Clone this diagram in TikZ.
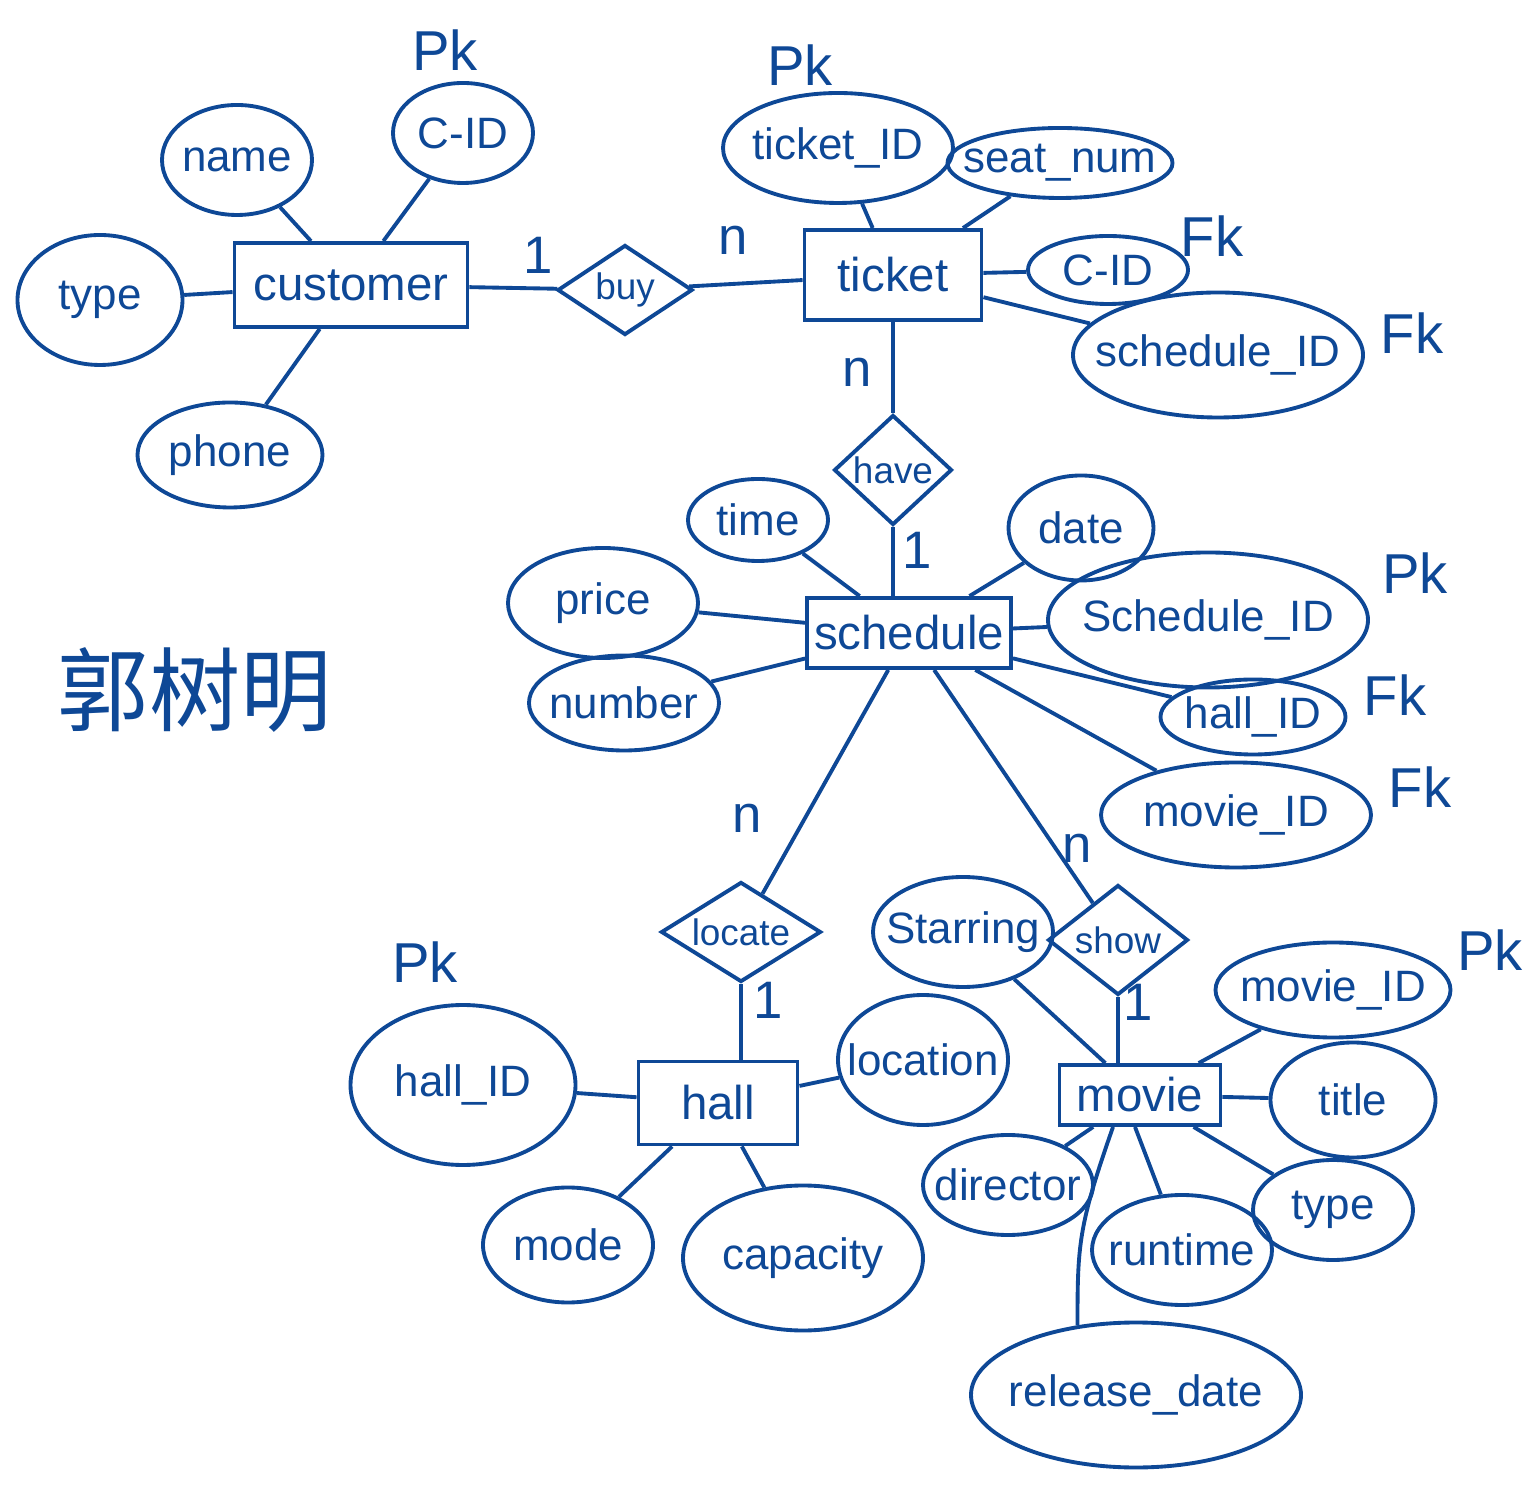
\documentclass[tikz,border=0pt]{standalone}
\usepackage{fontspec}
\setmainfont{Liberation Sans}
\newfontfamily\cjkfont{Noto Sans CJK SC}
\usepackage{tikz}
\usetikzlibrary{shapes.geometric,positioning}
\usepackage{xcolor}
\definecolor{inkblue}{RGB}{14,72,150}

\begin{document}
\begin{tikzpicture}[
    node distance=2cm,
    every node/.style={text=inkblue},
    entity/.style={rectangle, draw=inkblue, line width=1.1pt, inner sep=2pt, text centered, font=\fontsize{13.5}{16}\selectfont},
    relation/.style={diamond, draw=inkblue, line width=1.1pt, inner sep=0pt, aspect=1.4, text centered, font=\fontsize{10.5}{12}\selectfont},
    attr/.style={ellipse, draw=inkblue, line width=1.1pt, inner xsep=-0.3cm, inner ysep=0pt, text centered, font=\fontsize{12.5}{15}\selectfont},
    keytag/.style={font=\fontsize{16}{18}\selectfont},
    card/.style={font=\fontsize{15}{17}\selectfont},
    link/.style={draw=inkblue, line width=1.1pt}
]
\useasboundingbox (0,0) rectangle (15.24,-14.85);

% Entities and relations
\node (customer) [entity, minimum width=2.33cm, minimum height=0.84cm] at (3.51,-2.85) {customer};
\node (buy) [relation, minimum width=1.35cm, minimum height=0.9cm, right of=customer, xshift=0.74cm, yshift=-0.05cm] {buy};
\node (ticket) [entity, minimum width=1.77cm, minimum height=0.9cm, right of=buy, xshift=0.68cm, yshift=0.15cm] {ticket};
\node (have) [relation, minimum width=1.05cm, minimum height=1.1cm, below of=ticket, yshift=0.05cm] {have};
\node (schedule) [entity, minimum width=2.03cm, minimum height=0.7cm, below of=have, xshift=0.16cm, yshift=0.37cm] {schedule};
\node (locate) [relation, minimum width=1.6cm, minimum height=1cm, below of=schedule, xshift=-1.68cm, yshift=-0.99cm] {locate};
\node (show) [relation, minimum width=1.4cm, minimum height=1.1cm, below of=schedule, xshift=2.09cm, yshift=-1.07cm] {show};
\node (hall) [entity, minimum width=1.59cm, minimum height=0.83cm, below of=locate, xshift=-0.23cm, yshift=0.29cm] {hall};
\node (movie) [entity, minimum width=1.61cm, minimum height=0.6cm, below of=show, xshift=0.22cm, yshift=0.45cm] {movie};

% Attributes of customer
\node (name) [attr, minimum width=1.5cm, minimum height=1.1cm, above of=customer, xshift=-1.14cm, yshift=-0.75cm] {name};
\node (cid) [attr, minimum width=1.4cm, minimum height=1cm, above of=customer, xshift=1.12cm, yshift=-0.48cm] {C-ID};
\node (ctype) [attr, minimum width=1.65cm, minimum height=1.3cm, left of=customer, xshift=-0.51cm, yshift=-0.15cm] {type};
\node (phone) [attr, minimum width=1.85cm, minimum height=1.05cm, below of=customer, xshift=-1.21cm, yshift=0.3cm] {phone};

% Attributes of ticket
\node (ticketid) [attr, minimum width=2.3cm, minimum height=1.1cm, above of=ticket, xshift=-0.55cm, yshift=-0.73cm] {ticket\_ID};
\node (seatnum) [attr, minimum width=2.25cm, minimum height=0.7cm, above of=ticket, xshift=1.67cm, yshift=-0.88cm] {seat\_num};
\node (tcid) [attr, minimum width=1.6cm, minimum height=0.68cm, right of=ticket, xshift=0.15cm, yshift=0.05cm] {C-ID};
\node (tschedid) [attr, minimum width=2.9cm, minimum height=1.25cm, right of=ticket, xshift=1.25cm, yshift=-0.8cm] {schedule\_ID};

% Attributes of schedule
\node (time) [attr, minimum width=1.4cm, minimum height=0.82cm, above of=schedule, xshift=-1.51cm, yshift=-0.87cm] {time};
\node (price) [attr, minimum width=1.9cm, minimum height=1.1cm, left of=schedule, xshift=-1.06cm, yshift=0.3cm] {price};
\node (number) [attr, minimum width=1.9cm, minimum height=0.95cm, left of=schedule, xshift=-0.85cm, yshift=-0.7cm] {number};
\node (date) [attr, minimum width=1.45cm, minimum height=1.05cm, above of=schedule, xshift=1.72cm, yshift=-0.95cm] {date};
\node (schedid) [attr, minimum width=3.2cm, minimum height=1.35cm, right of=schedule, xshift=0.99cm, yshift=0.13cm] {Schedule\_ID};
\node (shallid) [attr, minimum width=1.85cm, minimum height=0.75cm, right of=schedule, xshift=1.44cm, yshift=-0.84cm] {hall\_ID};
\node (smovieid) [attr, minimum width=2.7cm, minimum height=1.05cm, right of=schedule, xshift=1.27cm, yshift=-1.82cm] {movie\_ID};

% Attributes of hall
\node (hallid) [attr, minimum width=2.25cm, minimum height=1.6cm, left of=hall, xshift=-0.55cm, yshift=0.18cm] {hall\_ID};
\node (location) [attr, minimum width=1.7cm, minimum height=1.3cm, right of=hall, xshift=0.05cm, yshift=0.43cm] {location};
\node (mode) [attr, minimum width=1.7cm, minimum height=1.15cm, below of=hall, xshift=-1.5cm, yshift=0.58cm] {mode};
\node (capacity) [attr, minimum width=2.4cm, minimum height=1.45cm, below of=hall, xshift=0.85cm, yshift=0.45cm] {capacity};

% Attributes of movie
\node (starring) [attr, minimum width=1.8cm, minimum height=1.1cm, left of=show, xshift=0.45cm, yshift=0.08cm] {Starring};
\node (movieid) [attr, minimum width=2.35cm, minimum height=0.95cm, right of=movie, xshift=-0.07cm, yshift=1.05cm] {movie\_ID};
\node (title) [attr, minimum width=1.65cm, minimum height=1.15cm, right of=movie, xshift=0.13cm, yshift=-0.05cm] {title};
\node (mtype) [attr, minimum width=1.6cm, minimum height=1cm, right of=movie, xshift=-0.07cm, yshift=-1.15cm] {type};
\node (director) [attr, minimum width=1.7cm, minimum height=1cm, below of=movie, xshift=-1.32cm, yshift=1.1cm] {director};
\node (runtime) [attr, minimum width=1.8cm, minimum height=1.1cm, below of=movie, xshift=0.42cm, yshift=0.45cm] {runtime};
\node (release) [attr, minimum width=3.3cm, minimum height=1.45cm, below of=movie, xshift=-0.04cm, yshift=-1cm] {release\_date};

% Key tags
\node (pk1) [keytag] at (4.45,-0.5) {Pk};
\node (pk2) [keytag] at (8.0,-0.65) {Pk};
\node (fk1) [keytag] at (12.12,-2.36) {Fk};
\node (fk2) [keytag] at (14.12,-3.33) {Fk};
\node (pk3) [keytag] at (14.15,-5.73) {Pk};
\node (fk3) [keytag] at (13.95,-6.95) {Fk};
\node (fk4) [keytag] at (14.2,-7.87) {Fk};
\node (pk4) [keytag] at (4.25,-9.62) {Pk};
\node (pk5) [keytag] at (14.9,-9.5) {Pk};

% Cardinalities
\node (c1) [card] at (5.38,-2.55) {1};
\node (c2) [card] at (7.33,-2.4) {n};
\node (c3) [card] at (8.57,-3.72) {n};
\node (c4) [card] at (9.17,-5.5) {1};
\node (c5) [card] at (7.47,-8.18) {n};
\node (c6) [card] at (7.68,-10.0) {1};
\node (c7) [card] at (10.77,-8.48) {n};
\node (c8) [card] at (11.38,-10.02) {1};

% Signature
\node (author) [font=\cjkfont\fontsize{26}{30}\selectfont] at (1.95,-6.9) {郭树明};

% Connectors
\draw [link] (customer) -- (buy);
\draw [link] (buy) -- (ticket);
\draw [link] (ticket) -- (have);
\draw [link] (have) -- (have |- schedule.north);
\draw [link] (schedule) -- (locate);
\draw [link] (locate) -- (locate |- hall.north);
\draw [link] (schedule) -- (show);
\draw [link] (show) -- (show |- movie.north);
\draw [link] (customer) -- (name);
\draw [link] (customer) -- (cid);
\draw [link] (customer) -- (ctype);
\draw [link] (customer) -- (phone);
\draw [link] (ticket) -- (ticketid);
\draw [link] (ticket) -- (seatnum);
\draw [link] (ticket) -- (tcid);
\draw [link] (ticket) -- (tschedid);
\draw [link] (schedule) -- (time);
\draw [link] (schedule) -- (price);
\draw [link] (schedule) -- (number);
\draw [link] (schedule) -- (date);
\draw [link] (schedule) -- (schedid);
\draw [link] (schedule) -- (shallid);
\draw [link] (schedule) -- (smovieid);
\draw [link] (hall) -- (hallid);
\draw [link] (hall) -- (location);
\draw [link] (hall) -- (mode);
\draw [link] (hall) -- (capacity);
\draw [link] (movie) -- (starring);
\draw [link] (movie) -- (movieid);
\draw [link] (movie) -- (title);
\draw [link] (movie) -- (mtype);
\draw [link] (movie) -- (director);
\draw [link] ([xshift=-0.05cm]movie.south) -- (runtime);
\draw [link] ([xshift=-0.27cm]movie.south) .. controls +(-0.35,-1) and +(0,0.8) .. (release.130);

\end{tikzpicture}
\end{document}
